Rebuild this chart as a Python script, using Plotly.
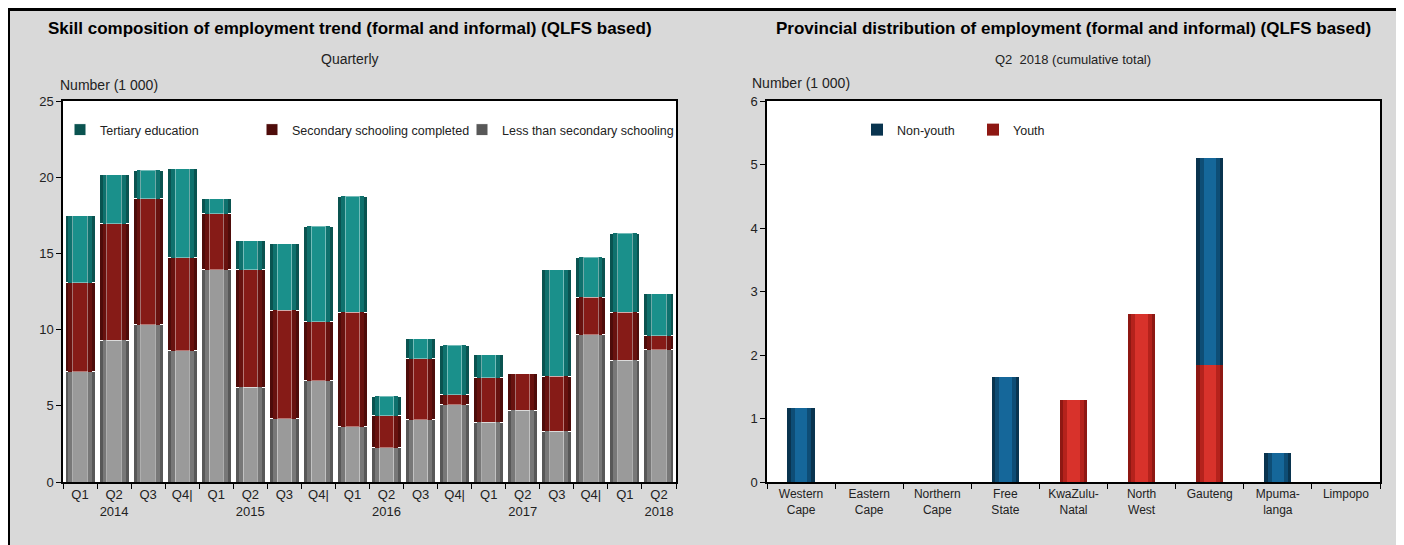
import plotly.graph_objects as go

# left panel: skill composition, quarterly, number (1 000)
quarters = ["Q1 2014", "Q2 2014", "Q3 2014", "Q4 2014",
            "Q1 2015", "Q2 2015", "Q3 2015", "Q4 2015",
            "Q1 2016", "Q2 2016", "Q3 2016", "Q4 2016",
            "Q1 2017", "Q2 2017", "Q3 2017", "Q4 2017",
            "Q1 2018", "Q2 2018"]
quarter_labels = ["Q1", "Q2<br>2014", "Q3", "Q4|",
                  "Q1", "Q2<br>2015", "Q3", "Q4|",
                  "Q1", "Q2<br>2016", "Q3", "Q4|",
                  "Q1", "Q2<br>2017", "Q3", "Q4|",
                  "Q1", "Q2<br>2018"]
less_than_secondary = [7.22, 9.29, 10.33, 8.62, 13.94, 6.22, 4.14, 6.65, 3.64,
                       2.24, 4.10, 5.08, 3.92, 4.71, 3.33, 9.67, 8.00, 8.69]
secondary_completed = [5.84, 7.67, 8.27, 6.08, 3.65, 7.72, 7.13, 3.85, 7.50,
                       2.12, 4.00, 0.65, 2.91, 2.40, 3.61, 2.45, 3.14, 0.91]
tertiary = [4.42, 3.21, 1.86, 5.84, 0.98, 1.88, 4.35, 6.28, 7.61,
            1.26, 1.29, 3.24, 1.53, 0.00, 7.00, 2.63, 5.18, 2.76]

# right panel: provincial distribution, Q2 2018
provinces = ["Western Cape", "Eastern Cape", "Northern Cape", "Free State",
             "KwaZulu-Natal", "North West", "Gauteng", "Mpumalanga", "Limpopo"]
province_labels = ["Western<br>Cape", "Eastern<br>Cape", "Northern<br>Cape",
                   "Free<br>State", "KwaZulu-<br>Natal", "North<br>West",
                   "Gauteng", "Mpuma-<br>langa", "Limpopo"]
youth = [0, 0, 0, 0, 1.29, 2.64, 1.85, 0, 0]
non_youth = [1.16, 0, 0, 1.65, 0, 0, 3.26, 0.45, 0]

W, H = 1404, 545
OFF = 8  # the page body margin shifts the figure by 8 px


def px_x(v):
    return (v - OFF) / W


def px_y(v):
    return 1 - (v - OFF) / H


FONT = "Liberation Sans, Arial, sans-serif"
TXT = "#222222"

fig = go.Figure()

# (name, values, legend id, edge / mid / centre colours)
left_series = [
    ("Less than secondary schooling", less_than_secondary, "legend4",
     ("#585858", "#787878", "#9a9a9a")),
    ("Secondary schooling completed", secondary_completed, "legend3",
     ("#4e0c0a", "#68120f", "#861b17")),
    ("Tertiary education", tertiary, "legend",
     ("#0a5350", "#0f716d", "#1a908b")),
]
right_series = [
    ("Youth", youth, "legend5", ("#8e1813", "#b4221c", "#d8322b")),
    ("Non-youth", non_youth, "legend2", ("#09344f", "#0e4d75", "#15679a")),
]

for name, vals, leg, (edge, mid, centre) in left_series:
    fig.add_trace(go.Bar(x=quarters, y=vals, name=name, xaxis="x", yaxis="y",
                         marker=dict(color=edge, line=dict(color="white", width=1)),
                         width=0.88, legend=leg, hoverinfo="skip"))
    fig.add_trace(go.Bar(x=quarters, y=vals, name=name, xaxis="x3", yaxis="y3",
                         marker=dict(color=mid, line=dict(width=0)),
                         width=0.68, showlegend=False, hoverinfo="skip"))
    fig.add_trace(go.Bar(x=quarters, y=vals, name=name, xaxis="x5", yaxis="y5",
                         marker=dict(color=centre, line=dict(color="rgba(255,255,255,0.4)", width=1)),
                         width=0.42, showlegend=False))

for name, vals, leg, (edge, mid, centre) in right_series:
    fig.add_trace(go.Bar(x=provinces, y=vals, name=name, xaxis="x2", yaxis="y2",
                         marker=dict(color=edge, line=dict(width=0)),
                         width=0.4, legend=leg, hoverinfo="skip"))
    fig.add_trace(go.Bar(x=provinces, y=vals, name=name, xaxis="x4", yaxis="y4",
                         marker=dict(color=mid, line=dict(width=0)),
                         width=0.3, showlegend=False, hoverinfo="skip"))
    fig.add_trace(go.Bar(x=provinces, y=vals, name=name, xaxis="x6", yaxis="y6",
                         marker=dict(color=centre, line=dict(width=0)),
                         width=0.18, showlegend=False))

axis_common = dict(showline=True, linecolor="black", linewidth=1.5, mirror=True,
                   ticks="outside", ticklen=5, tickcolor="black", showgrid=False,
                   zeroline=False, automargin=False)
hidden = dict(visible=False, showgrid=False, zeroline=False, automargin=False)

left_dom = [px_x(63), px_x(676)]
right_dom = [px_x(767), px_x(1380)]
y_dom = [px_y(482), px_y(101)]

fig.update_layout(
    xaxis=dict(axis_common, domain=left_dom, anchor="y", type="category", tickson="boundaries",
               tickvals=quarters, ticktext=quarter_labels, range=[-0.5, 17.5], tickangle=0,
               tickfont=dict(family=FONT, size=13, color=TXT)),
    yaxis=dict(axis_common, domain=y_dom, anchor="x", range=[0, 25], dtick=5,
               tickfont=dict(family=FONT, size=13, color=TXT)),
    xaxis2=dict(axis_common, domain=right_dom, anchor="y2", type="category", tickson="boundaries",
                tickvals=provinces, ticktext=province_labels, range=[-0.5, 8.5], tickangle=0,
                tickfont=dict(family=FONT, size=12, color=TXT)),
    yaxis2=dict(axis_common, domain=y_dom, anchor="x2", range=[0, 6], dtick=1,
                tickfont=dict(family=FONT, size=13, color=TXT)),
    # overlay axes used only for the shaded bands of each bar
    xaxis3=dict(hidden, overlaying="x", type="category", range=[-0.5, 17.5], anchor="y3"),
    yaxis3=dict(hidden, overlaying="y", range=[0, 25], anchor="x3"),
    xaxis5=dict(hidden, overlaying="x", type="category", range=[-0.5, 17.5], anchor="y5"),
    yaxis5=dict(hidden, overlaying="y", range=[0, 25], anchor="x5"),
    xaxis4=dict(hidden, overlaying="x2", type="category", range=[-0.5, 8.5], anchor="y4"),
    yaxis4=dict(hidden, overlaying="y2", range=[0, 6], anchor="x4"),
    xaxis6=dict(hidden, overlaying="x2", type="category", range=[-0.5, 8.5], anchor="y6"),
    yaxis6=dict(hidden, overlaying="y2", range=[0, 6], anchor="x6"),
)

leg_font = dict(family=FONT, size=12.5, color=TXT)


def legend_at(x_px):
    return dict(orientation="h", x=px_x(x_px), y=px_y(115), xanchor="left", yanchor="top",
                bgcolor="rgba(0,0,0,0)", font=leg_font)


fig.update_layout(
    width=W, height=H,
    margin=dict(l=0, r=0, t=0, b=0),
    paper_bgcolor="#d9d9d9",
    plot_bgcolor="white",
    barmode="stack",
    font=dict(family=FONT, color=TXT),
    legend=legend_at(60),
    legend3=legend_at(252),
    legend4=legend_at(462),
    legend2=legend_at(857),
    legend5=legend_at(973),
)

title_font = dict(family=FONT, size=17, color="black")
sub_font = dict(family=FONT, size=14, color=TXT)
annots = [
    dict(text="<b>Skill composition of employment trend (formal and informal) (QLFS based)</b>",
         x=px_x(350), y=px_y(28), font=title_font),
    dict(text="Quarterly", x=px_x(350), y=px_y(59), font=sub_font),
    dict(text="Number (1 000)", x=px_x(58), y=px_y(85), xanchor="left", font=sub_font),
    dict(text="<b>Provincial distribution of employment (formal and informal) (QLFS based)</b>",
         x=px_x(1073), y=px_y(28), font=title_font),
    dict(text="Q2  2018 (cumulative total)", x=px_x(1073), y=px_y(59),
         font=dict(family=FONT, size=13, color=TXT)),
    dict(text="Number (1 000)", x=px_x(750), y=px_y(83), xanchor="left", font=sub_font),
]
for a in annots:
    a.setdefault("xanchor", "center")
    fig.add_annotation(xref="paper", yref="paper", yanchor="middle", showarrow=False, **a)

# black frame along the top and left of the panel
fig.add_shape(type="line", xref="paper", yref="paper", x0=0, x1=1,
              y0=1 - 1.5 / H, y1=1 - 1.5 / H,
              line=dict(color="black", width=3), layer="above")
fig.add_shape(type="line", xref="paper", yref="paper", x0=1 / W, x1=1 / W, y0=0, y1=1,
              line=dict(color="black", width=2), layer="above")

fig.write_html("out.html")
